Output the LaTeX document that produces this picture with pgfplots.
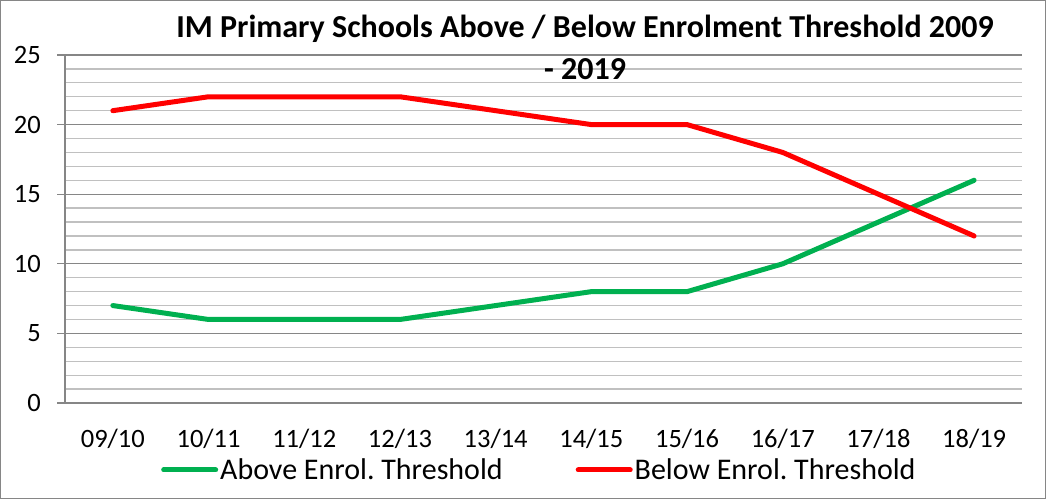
\documentclass[border=0pt]{standalone}
\usepackage{pgfplots}
\pgfplotsset{compat=1.18}
\usepackage{fontspec}
\setmainfont{Carlito}
\frenchspacing
\definecolor{cgreen}{HTML}{00B050}
\definecolor{cred}{HTML}{FF0000}
\definecolor{gmajor}{HTML}{868686}
\definecolor{gminor}{HTML}{C0C0C0}
\begin{document}
\begin{tikzpicture}[x=1pt,y=1pt]
\useasboundingbox (0,0) rectangle (1046,499);
\draw[gmajor, line width=1.2pt] (0.6,0.6) rectangle (1045.4,498.4);
\begin{axis}[
  at={(65pt,96pt)}, anchor=south west,
  scale only axis, width=957pt, height=348pt,
  xmin=-0.5, xmax=9.5, ymin=0, ymax=25,
  axis x line=bottom, axis y line=left,
  axis line style={gmajor, line width=1.2pt, -},
  xtick={0,...,9},
  xticklabels={09/10,10/11,11/12,12/13,13/14,14/15,15/16,16/17,17/18,18/19},
  minor xtick={-0.5,0.5,...,9.5},
  ytick={0,5,...,25},
  minor ytick={1,2,3,4,6,7,8,9,11,12,13,14,16,17,18,19,21,22,23,24},
  ymajorgrids, yminorgrids,
  major grid style={gmajor, line width=1.3pt},
  minor grid style={gminor, line width=1.3pt},
  tick align=outside,
  xtick style={draw=none},
  minor x tick style={gmajor, line width=1.2pt},
  minor tick length=8pt,
  ytick style={gmajor, line width=1.2pt},
  major tick length=8pt,
  minor y tick style={draw=none},
  /pgf/number format/assume math mode=true,
  ticklabel style={font=\fontsize{26.5}{30}\selectfont},
  yticklabel style={inner sep=0pt, xshift=-16pt},
  xticklabel style={inner sep=0pt, yshift=-18pt},
  title={IM Primary Schools Above / Below Enrolment Threshold 2009\\- 2019},
  title style={at={(axis description cs:0.5434,1.004)}, anchor=center, align=center,
    font=\fontsize{32}{42}\selectfont\bfseries, inner sep=0pt},
  legend columns=2,
  legend style={draw=none, fill=none, at={(axis description cs:0.1003,-0.1925)}, anchor=west,
    inner sep=0pt, font=\fontsize{30}{34}\selectfont,
    /tikz/every even column/.append style={column sep=71pt}},
  legend image code/.code={\draw[#1, line width=5pt, line cap=round] (0pt,0pt) -- (52pt,0pt);},
  clip=false,
]
\addplot[cgreen, line width=5pt, line cap=round, line join=round] coordinates {
(0,7) (1,6) (2,6) (3,6) (4,7) (5,8) (6,8) (7,10) (8,13) (9,16)};
\addlegendentry{Above Enrol. Threshold}
\addplot[cred, line width=5pt, line cap=round, line join=round] coordinates {
(0,21) (1,22) (2,22) (3,22) (4,21) (5,20) (6,20) (7,18) (8,15) (9,12)};
\addlegendentry{Below Enrol. Threshold}
\end{axis}
\end{tikzpicture}
\end{document}
